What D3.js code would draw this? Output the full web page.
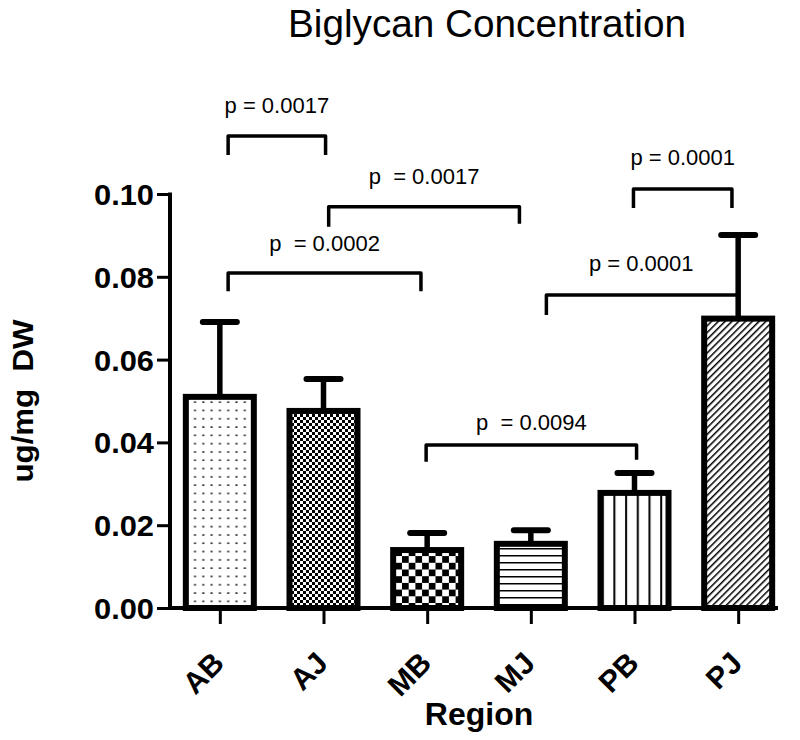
<!DOCTYPE html>
<html>
<head>
<meta charset="utf-8">
<script src="https://cdn.jsdelivr.net/npm/d3@7"></script>
<style>
  html, body { margin: 0; padding: 0; background: #fff; }
  svg { display: block; }
  text { font-family: "Liberation Sans", Arial, Helvetica, sans-serif; fill: #000; }
</style>
</head>
<body>
<script>
// ---------- data ----------
const categories = ["AB", "AJ", "MB", "MJ", "PB", "PJ"];
const means      = [0.0510, 0.0476, 0.0140, 0.0155, 0.0278, 0.0699];
const errors     = [0.0181, 0.0077, 0.0041, 0.0033, 0.0048, 0.0202];
const patterns   = ["dots", "fineCheck", "check", "hlines", "vlines", "diag"];
const yTicks     = [0.00, 0.02, 0.04, 0.06, 0.08, 0.10];

const titleText = "Biglycan Concentration";
const yLabel = "ug/mg  DW";
const xLabel = "Region";

// significance brackets (x as fractional category index, y in data units)
const cmpFrom       = [0.08, 1.05, 0.08, 3.99, 3.15, 1.99];
const cmpTo         = [1.02, 2.89, 1.94, 4.94, 4.98, 4.02];
const cmpLevel      = [0.1140, 0.0969, 0.0809, 0.1012, 0.0756, 0.0394];
const cmpLegLeft    = [0.0046, 0.0048, 0.0044, 0.0046, 0.0048, 0.0041];
const cmpLegRight   = [0.0046, 0.0041, 0.0044, 0.0046, 0.0000, 0.0036];
const cmpLabel      = ["p = 0.0017", "p  = 0.0017", "p  = 0.0002", "p = 0.0001", "p = 0.0001", "p  = 0.0094"];
const cmpLabelLevel = [0.1196, 0.1024, 0.0862, 0.1070, 0.0814, 0.0430];

// ---------- layout ----------
const W = 800, H = 740;
const x0 = 170, y0 = 608, yTop = 194;

const svg = d3.select("body").append("svg").attr("width", W).attr("height", H);

const x = d3.scalePoint().domain(categories).range([168, 790]).padding(0.5);
const step = x.step();
const xi = i => x(categories[0]) + i * step;
const y = d3.scaleLinear().domain([0, 0.10]).range([y0, yTop]);
const barW = 68;

// ---------- patterns ----------
const defs = svg.append("defs");
{
  let p = defs.append("pattern").attr("id", "dots").attr("patternUnits", "userSpaceOnUse")
    .attr("width", 8.3).attr("height", 8.3);
  p.append("rect").attr("width", 8.3).attr("height", 8.3).attr("fill", "#fff");
  p.append("rect").attr("x", 3).attr("y", 3).attr("width", 2.2).attr("height", 1.6).attr("fill", "#333");

  p = defs.append("pattern").attr("id", "fineCheck").attr("patternUnits", "userSpaceOnUse")
    .attr("width", 6).attr("height", 6);
  p.append("rect").attr("width", 6).attr("height", 6).attr("fill", "#fff");
  p.append("rect").attr("x", 0).attr("y", 0).attr("width", 3).attr("height", 3).attr("fill", "#000");
  p.append("rect").attr("x", 3).attr("y", 3).attr("width", 3).attr("height", 3).attr("fill", "#000");

  p = defs.append("pattern").attr("id", "check").attr("patternUnits", "userSpaceOnUse")
    .attr("width", 13.4).attr("height", 13.4);
  p.append("rect").attr("width", 13.4).attr("height", 13.4).attr("fill", "#fff");
  p.append("rect").attr("x", 6.7).attr("y", 0).attr("width", 6.7).attr("height", 6.7).attr("fill", "#000");
  p.append("rect").attr("x", 0).attr("y", 6.7).attr("width", 6.7).attr("height", 6.7).attr("fill", "#000");

  p = defs.append("pattern").attr("id", "hlines").attr("patternUnits", "userSpaceOnUse")
    .attr("width", 10).attr("height", 7);
  p.append("rect").attr("width", 10).attr("height", 7).attr("fill", "#fff");
  p.append("rect").attr("x", 0).attr("y", 2).attr("width", 10).attr("height", 1.5).attr("fill", "#000");

  p = defs.append("pattern").attr("id", "vlines").attr("patternUnits", "userSpaceOnUse")
    .attr("width", 11.7).attr("height", 10);
  p.append("rect").attr("width", 11.7).attr("height", 10).attr("fill", "#fff");
  p.append("rect").attr("x", 5).attr("y", 0).attr("width", 2).attr("height", 10).attr("fill", "#000");

  p = defs.append("pattern").attr("id", "diag").attr("patternUnits", "userSpaceOnUse")
    .attr("width", 4.8).attr("height", 10).attr("patternTransform", "rotate(45)");
  p.append("rect").attr("width", 4.8).attr("height", 10).attr("fill", "#fff");
  p.append("rect").attr("x", 0).attr("y", 0).attr("width", 1.5).attr("height", 10).attr("fill", "#000");
}

// ---------- title ----------
svg.append("text").attr("x", 487).attr("y", 37).attr("text-anchor", "middle")
  .attr("font-size", 38).attr("textLength", 398).attr("lengthAdjust", "spacingAndGlyphs")
  .text(titleText);

// ---------- error bars ----------
const eg = svg.append("g");
categories.forEach((c, i) => {
  const cx = x(c);
  eg.append("line").attr("x1", cx).attr("x2", cx)
    .attr("y1", y(means[i])).attr("y2", y(means[i] + errors[i]))
    .attr("stroke", "#000").attr("stroke-width", 5.5);
  eg.append("line").attr("x1", cx - 17).attr("x2", cx + 17)
    .attr("y1", y(means[i] + errors[i])).attr("y2", y(means[i] + errors[i]))
    .attr("stroke", "#000").attr("stroke-width", 6).attr("stroke-linecap", "round");
});

// ---------- bars ----------
svg.append("g").selectAll("rect").data(categories).join("rect")
  .attr("x", c => x(c) - barW / 2)
  .attr("y", (c, i) => y(means[i]))
  .attr("width", barW)
  .attr("height", (c, i) => y0 - y(means[i]))
  .attr("fill", (c, i) => `url(#${patterns[i]})`)
  .attr("stroke", "#000").attr("stroke-width", 6);

// ---------- axes ----------
const yAxis = d3.axisLeft(y).tickValues(yTicks).tickFormat(d3.format(".2f")).tickSize(13).tickPadding(3);
const gy = svg.append("g").attr("transform", `translate(${x0},0)`).call(yAxis);
gy.select(".domain").remove();
gy.selectAll(".tick line").attr("stroke", "#000").attr("stroke-width", 3);
gy.selectAll(".tick text").attr("font-size", 30).attr("font-weight", "bold")
  .attr("font-family", "'Liberation Sans', Arial, sans-serif").attr("fill", "#000")
  .attr("dy", "0.35em").attr("textLength", 60).attr("lengthAdjust", "spacingAndGlyphs");
svg.append("line").attr("x1", x0).attr("x2", x0).attr("y1", yTop - 1.5).attr("y2", y0 + 2)
  .attr("stroke", "#000").attr("stroke-width", 4);

const xAxis = d3.axisBottom(x).tickSize(16).tickFormat("");
const gx = svg.append("g").attr("transform", `translate(0,${y0})`).call(xAxis);
gx.select(".domain").remove();
gx.selectAll(".tick line").attr("stroke", "#000").attr("stroke-width", 3);
svg.append("line").attr("x1", x0 - 2).attr("x2", 778).attr("y1", y0).attr("y2", y0)
  .attr("stroke", "#000").attr("stroke-width", 4);

svg.append("g").selectAll("text").data(categories).join("text")
  .attr("transform", c => `translate(${x(c) + 6},${y0 + 57}) rotate(-45)`)
  .attr("text-anchor", "end").attr("font-size", 30).attr("font-weight", "bold")
  .text(c => c);

// axis titles
svg.append("text").attr("x", 479).attr("y", 725).attr("text-anchor", "middle")
  .attr("font-size", 32).attr("font-weight", "bold").text(xLabel);
svg.append("text").attr("transform", `translate(33,${(y0 + yTop) / 2}) rotate(-90)`)
  .attr("text-anchor", "middle").attr("font-size", 29).attr("font-weight", "bold")
  .style("white-space", "pre").attr("textLength", 163).attr("lengthAdjust", "spacingAndGlyphs")
  .text(yLabel);

// ---------- brackets ----------
const bg = svg.append("g");
cmpLabel.forEach((lab, k) => {
  const xa = xi(cmpFrom[k]), xb = xi(cmpTo[k]);
  const yl = y(cmpLevel[k]);
  const ya = y(cmpLevel[k] - cmpLegLeft[k]);
  const yb = y(cmpLevel[k] - cmpLegRight[k]);
  bg.append("path")
    .attr("d", `M${xa},${ya} L${xa},${yl} L${xb},${yl} L${xb},${yb}`)
    .attr("fill", "none").attr("stroke", "#000").attr("stroke-width", 3.5)
    .attr("stroke-linejoin", "round");
  bg.append("text").attr("x", (xa + xb) / 2).attr("y", y(cmpLabelLevel[k]))
    .attr("text-anchor", "middle").attr("font-size", 22)
    .style("white-space", "pre").text(lab);
});
</script>
</body>
</html>
